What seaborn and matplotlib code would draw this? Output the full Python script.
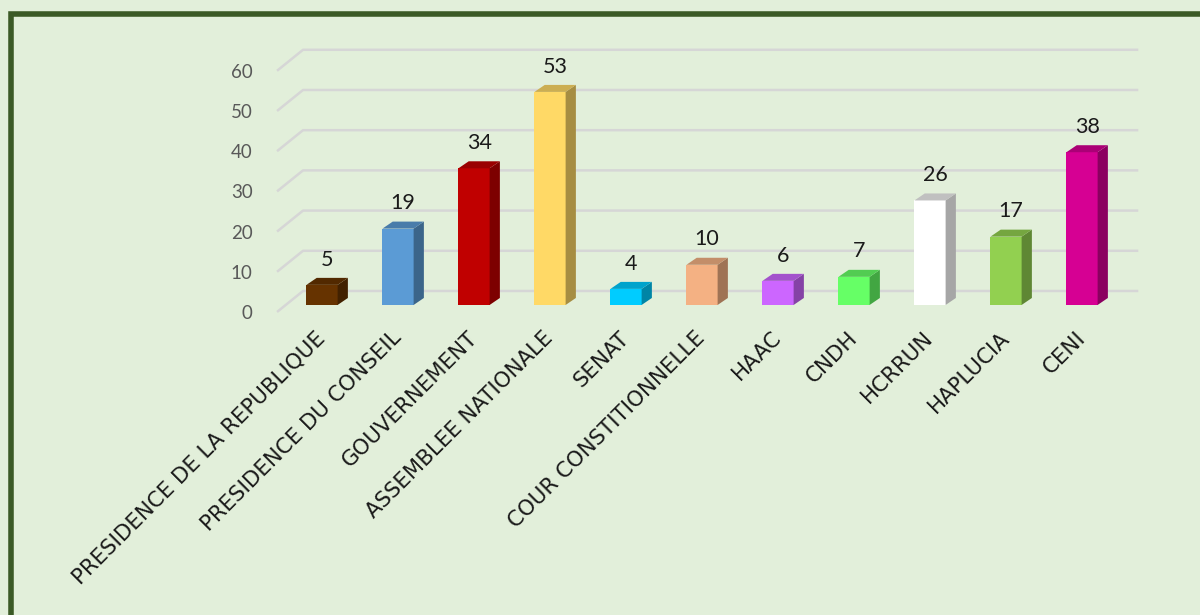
import matplotlib
matplotlib.use("Agg")
import matplotlib.pyplot as plt
import matplotlib.colors as mcolors
from matplotlib.patches import Polygon, Rectangle
import seaborn as sns
import pandas as pd

# ---- data ----
categories = ["PRESIDENCE DE LA REPUBLIQUE", "PRESIDENCE DU CONSEIL", "GOUVERNEMENT",
              "ASSEMBLEE NATIONALE", "SENAT", "COUR CONSTITIONNELLE", "HAAC", "CNDH",
              "HCRRUN", "HAPLUCIA", "CENI"]
values = [5, 19, 34, 53, 4, 10, 6, 7, 26, 17, 38]
bar_colors = ["#663300", "#5b9bd5", "#c00000", "#ffd966", "#00ccff", "#f4b183",
              "#cc66ff", "#66ff66", "#ffffff", "#92d050", "#d60093"]
y_ticks = [0, 10, 20, 30, 40, 50, 60]

# ---- style ----
sns.set_theme(style="white")
plt.rcParams["font.family"] = ["Lato", "DejaVu Sans"]
BG = "#e2efda"

fig = plt.figure(figsize=(12, 6.15), dpi=100, facecolor=BG)
ax = fig.add_axes([0.2082, 0.4649, 0.7505, 0.4837])
ax.set_facecolor("none")

df = pd.DataFrame({"cat": categories, "val": values})
BW = 0.41
sns.barplot(data=df, x="cat", y="val", hue="cat", palette=bar_colors, legend=False,
            width=BW, saturation=1, ax=ax, zorder=3, linewidth=0)

ax.set_xlim(-0.95, 10.9)
ax.set_ylim(-6, 68)

# 3D depth (data units)
GX_F, GY_F = -0.592, -1.74     # front end of floor/grid diagonals
GX_B, GY_B = -0.25, 3.48       # back wall left
GX_R = 10.74                   # back wall right end
for v in y_ticks:
    ax.plot([GX_F, GX_B, GX_R], [v + GY_F, v + GY_B, v + GY_B], color="#d6d6d6",
            lw=1.8, zorder=1, solid_capstyle="butt")

SDX, SDY = 0.135, 1.74
def shade(c, f):
    r, g, b = mcolors.to_rgb(c)
    return (r * f, g * f, b * f)

for i, p in enumerate(ax.patches):
    x0 = p.get_x(); w = p.get_width(); h = p.get_height()
    c = bar_colors[i]
    if c.lower() == "#ffffff":
        side, top = "#a6a6a6", "#c0c0c0"
    else:
        side, top = shade(c, 0.65), shade(c, 0.8)
    ax.add_patch(Polygon([(x0 + w, 0), (x0 + w + SDX, SDY), (x0 + w + SDX, h + SDY), (x0 + w, h)],
                         closed=True, facecolor=side, edgecolor="none", zorder=3))
    ax.add_patch(Polygon([(x0, h), (x0 + w, h), (x0 + w + SDX, h + SDY), (x0 + SDX, h + SDY)],
                         closed=True, facecolor=top, edgecolor="none", zorder=3))
    ax.annotate(str(values[i]), (x0 + w / 2 + SDX / 2, h + SDY), xytext=(0, 6),
                textcoords="offset points", ha="center", va="bottom",
                fontsize=15.5, color="#1a1a1a")

ax.set_yticks([v + GY_F for v in y_ticks], [str(v) for v in y_ticks])
ax.tick_params(axis="y", length=0, pad=-2, labelsize=13.5, labelcolor="#595959")
ax.set_xticks(range(len(categories)), categories)
ax.tick_params(axis="x", length=0, pad=4, labelcolor="#1a1a1a")
for lab in ax.get_xticklabels():
    lab.set_rotation(45)
    lab.set_ha("right")
    lab.set_va("center")
    lab.set_rotation_mode("anchor")
    lab.set_family(["DejaVu Sans"])
    lab.set_fontsize(15.3)
ax.set_xlabel("")
ax.set_ylabel("")
for s in ax.spines.values():
    s.set_visible(False)

# outer dark green frame
fig.patches.append(Rectangle((10.5 / 1200, -0.05), 1.2, 1 - 13.5 / 615 + 0.05,
                             transform=fig.transFigure, fill=False,
                             edgecolor="#3b5a26", lw=4, zorder=0))

fig.savefig("out.png", dpi=100, facecolor=BG)
